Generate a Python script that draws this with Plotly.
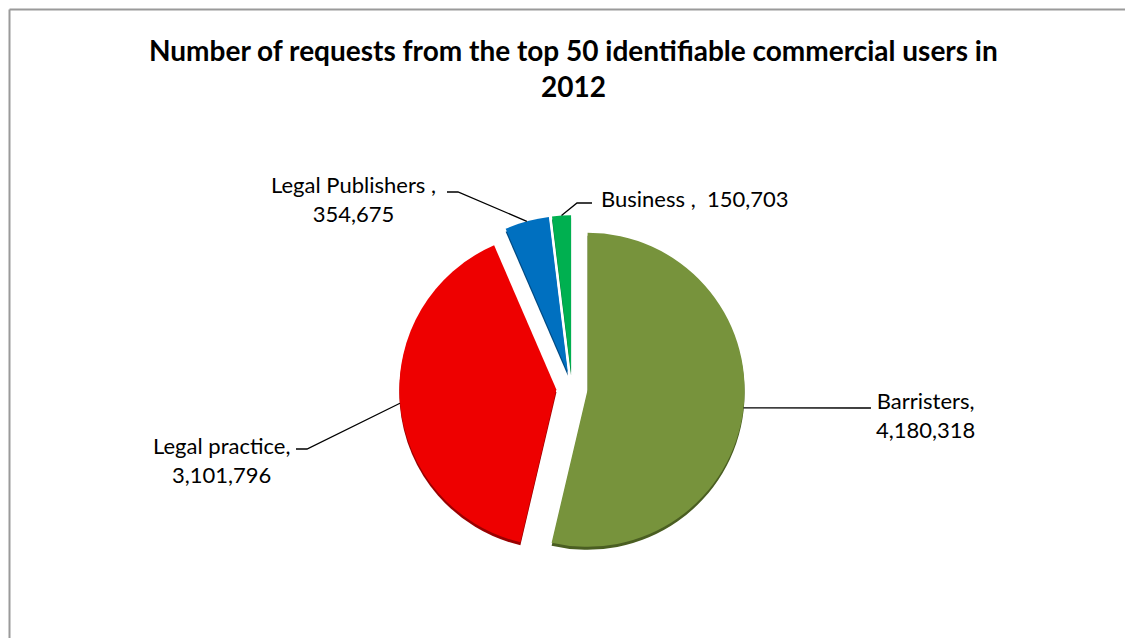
import math
import plotly.graph_objects as go

# ---- data ----
labels = ["Barristers", "Legal practice", "Legal Publishers", "Business"]
values = [4180318, 3101796, 354675, 150703]
colors = ["#77933C", "#EE0000", "#0070C0", "#00B050"]
rim_colors = ["#4A5E22", "#9A0000", "#004A82", "#007636"]
label_texts = ["Barristers,<br>4,180,318", "Legal practice,<br>3,101,796",
               "Legal Publishers ,<br>354,675", "Business ,  150,703"]
title_text = "Number of requests from the top 50 identifiable commercial users in<br>2012"

# ---- layout geometry (pixels, in window coordinates) ----
OFF = 8                 # page body margin
W, H = 1125, 630
CX, CY = 572, 388       # pie centre
R = 157                 # pie radius
PULL = 0.1
RIM = 3                 # depth of the 3-D rim

def px(x):
    return (x - OFF) / W

def py(y):
    return 1 - (y - OFF) / H

half = R * (1 + PULL)

def domain(dy=0):
    return dict(x=[px(CX - half), px(CX + half)],
                y=[py(CY + dy + half), py(CY + dy - half)])

fig = go.Figure()
# darker rim underneath (3-D bevel look)
fig.add_trace(go.Pie(
    labels=labels, values=values,
    marker=dict(colors=rim_colors, line=dict(width=0)),
    sort=False, direction="clockwise", rotation=0,
    pull=[PULL] * len(values),
    textinfo="none", hoverinfo="skip",
    domain=domain(RIM), showlegend=False,
))
fig.add_trace(go.Pie(
    labels=labels, values=values,
    marker=dict(colors=colors, line=dict(width=0)),
    sort=False, direction="clockwise", rotation=0,
    pull=[PULL] * len(values),
    textinfo="none", hoverinfo="label+value",
    domain=domain(0), showlegend=False,
))

# label positions (text centre) and leader elbows
text_pos = [(926, 415), (222, 460), (353, 199), (694, 198)]
elbows = [[(862, 408), (871, 408)],
          [(307, 449), (296, 449)],
          [(458, 192), (447, 192)],
          [(577, 203), (592, 203)]]

total = sum(values)
cum = 0
shapes = []
annotations = []
for i, v in enumerate(values):
    mid = (cum + v / 2) / total * 2 * math.pi
    cum += v
    rr = R * (1 + PULL)
    tipx = CX + rr * math.sin(mid)
    tipy = CY - rr * math.cos(mid)
    pts = [(tipx, tipy)] + elbows[i]
    path = "M " + " L ".join(f"{px(a):.5f},{py(b):.5f}" for a, b in pts)
    shapes.append(dict(type="path", xref="paper", yref="paper", path=path,
                       line=dict(color="black", width=1.3)))
    tx, ty = text_pos[i]
    annotations.append(dict(x=px(tx), y=py(ty), xref="paper", yref="paper",
                            text=label_texts[i], showarrow=False,
                            xanchor="center", yanchor="middle", align="center",
                            font=dict(family="Lato", size=22, color="black")))

# title
annotations.append(dict(x=px(573), y=py(68), xref="paper", yref="paper",
                        text=title_text, showarrow=False,
                        xanchor="center", yanchor="middle", align="center",
                        font=dict(family="Lato", size=28, color="black",
                                  weight="bold")))

# chart frame (left and top edges visible)
shapes.append(dict(type="line", xref="paper", yref="paper",
                   x0=px(9.5), y0=py(9.5), x1=px(9.5), y1=py(H + 20),
                   line=dict(color="#9a9a9a", width=2)))
shapes.append(dict(type="line", xref="paper", yref="paper",
                   x0=px(9.5), y0=py(9.5), x1=px(W + 20), y1=py(9.5),
                   line=dict(color="#9a9a9a", width=2)))

fig.update_layout(
    width=W, height=H,
    margin=dict(l=0, r=0, t=0, b=0),
    paper_bgcolor="white", plot_bgcolor="white",
    shapes=shapes, annotations=annotations,
)
fig.write_html("out.html")
